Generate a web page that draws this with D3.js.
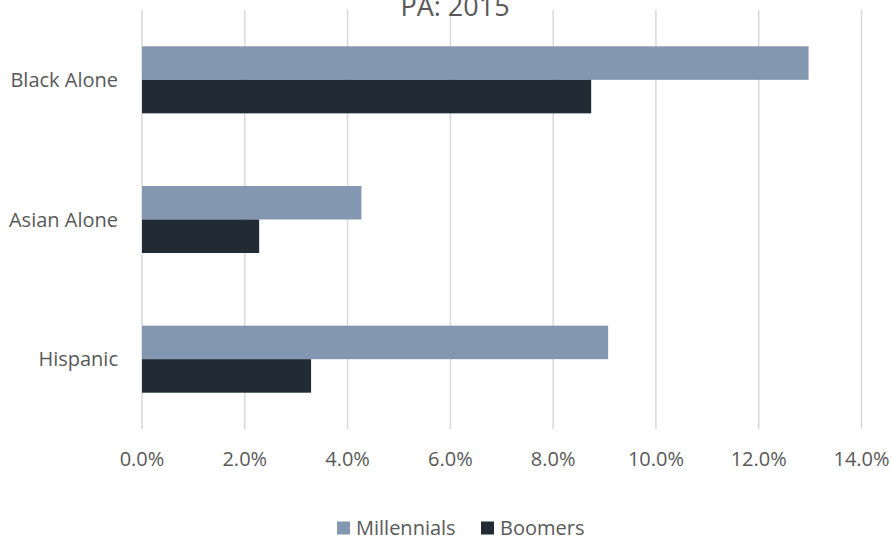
<!DOCTYPE html>
<html>
<head>
<meta charset="utf-8">
<script src="https://cdn.jsdelivr.net/npm/d3@7"></script>
<style>
  body { margin: 0; background: #fff; }
  text { font-family: "Open Sans", sans-serif; fill: #595959; }
</style>
</head>
<body>
<div id="chart"></div>
<script>
// data
var categories = ["Black Alone", "Asian Alone", "Hispanic"];
var seriesNames = ["Millennials", "Boomers"];
var millennials = [12.97, 4.27, 9.07];
var boomers = [8.74, 2.28, 3.29];
var xTicks = [0, 2, 4, 6, 8, 10, 12, 14];
var colors = ["#8497b0", "#222a35"];

var rows = categories.map(function(c, i) {
    return { cat: c, Millennials: millennials[i], Boomers: boomers[i] };
});

var W = 892, H = 537;
var margin = {top: 10, left: 142, right: 30.5, bottom: 108};

var svg = d3.select("#chart").append("svg")
    .attr("width", W)
    .attr("height", H);

var x = d3.scaleLinear()
    .domain([0, 14])
    .range([margin.left, W - margin.right]);

var y = d3.scaleBand()
    .domain(categories)
    .range([margin.top, H - margin.bottom])
    .paddingInner(0.52)
    .paddingOuter(0.26);

var ySub = d3.scaleBand()
    .domain(seriesNames)
    .range([0, y.bandwidth()]);

// gridlines
svg.append("g").selectAll("line")
    .data(xTicks)
    .enter().append("line")
    .attr("x1", function(d) { return x(d); })
    .attr("x2", function(d) { return x(d); })
    .attr("y1", margin.top)
    .attr("y2", H - margin.bottom)
    .attr("stroke", "#d9d9d9")
    .attr("stroke-width", 1.5);

// bars
var groups = svg.append("g").selectAll("g")
    .data(rows)
    .enter().append("g")
    .attr("transform", function(d) { return "translate(0," + y(d.cat) + ")"; });

groups.selectAll("rect")
    .data(function(d) { return seriesNames.map(function(s) { return {key: s, value: d[s]}; }); })
    .enter().append("rect")
    .attr("x", x(0))
    .attr("y", function(d) { return ySub(d.key); })
    .attr("width", function(d) { return x(d.value) - x(0); })
    .attr("height", ySub.bandwidth())
    .attr("fill", function(d, i) { return colors[i]; });

// category labels
svg.append("g").selectAll("text")
    .data(categories)
    .enter().append("text")
    .attr("x", 118)
    .attr("y", function(d) { return y(d) + y.bandwidth() / 2; })
    .attr("dy", "0.35em")
    .attr("text-anchor", "end")
    .style("font-size", "20px")
    .text(function(d) { return d; });

// x tick labels
var fmt = d3.format(".1f");
svg.append("g").selectAll("text")
    .data(xTicks)
    .enter().append("text")
    .attr("x", function(d) { return x(d); })
    .attr("y", 459)
    .attr("dy", "0.35em")
    .attr("text-anchor", "middle")
    .style("font-size", "20px")
    .text(function(d) { return fmt(d) + "%"; });

// title
svg.append("rect")
    .attr("x", 390).attr("y", 0)
    .attr("width", 130).attr("height", 16)
    .attr("fill", "#fff");
svg.append("text")
    .attr("x", 455)
    .attr("y", 16)
    .attr("text-anchor", "middle")
    .style("font-size", "27px")
    .text("PA: 2015");

// legend
var legendX = [337, 481];
var legend = svg.append("g").selectAll("g")
    .data(seriesNames)
    .enter().append("g")
    .attr("transform", function(d, i) { return "translate(" + legendX[i] + ",528)"; });

legend.append("rect")
    .attr("x", 0).attr("y", -6.5)
    .attr("width", 13).attr("height", 13)
    .attr("fill", function(d, i) { return colors[i]; });

legend.append("text")
    .attr("x", 19)
    .attr("dy", "0.35em")
    .style("font-size", "20px")
    .text(function(d) { return d; });
</script>
</body>
</html>
